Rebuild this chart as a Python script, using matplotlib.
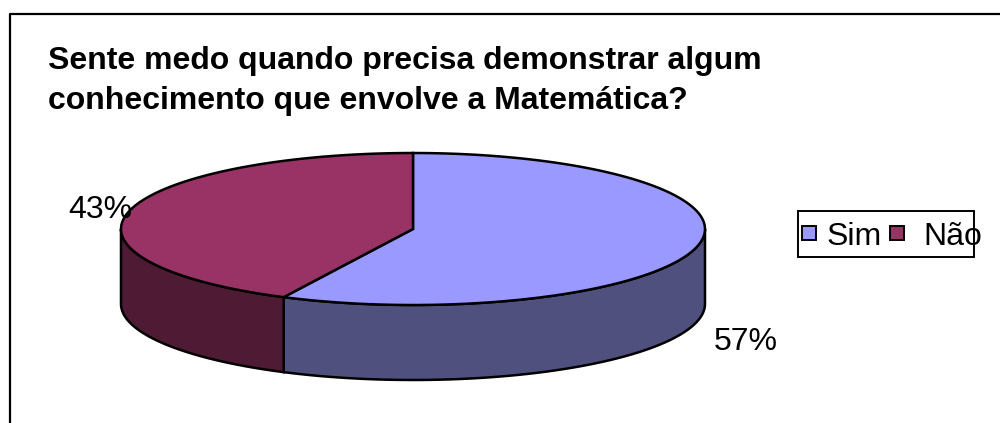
import numpy as np
import matplotlib
matplotlib.use("Agg")
import matplotlib.pyplot as plt
from matplotlib.patches import Polygon, Rectangle

# ---------- data ----------
categories = ["Sim", "Não"]
values = [57.3, 42.7]
labels = ["57%", "43%"]
title_lines = ["Sente medo quando precisa demonstrar algum",
               "conhecimento que envolve a Matemática?"]

top_colors = ["#9999FF", "#993366"]
side_colors = ["#50507F", "#4F1A33"]

plt.rcParams["font.family"] = ["Liberation Sans", "DejaVu Sans"]

# ---------- figure in pixel coordinates ----------
fig = plt.figure(figsize=(10, 4.23), dpi=100)
ax = fig.add_axes([0, 0, 1, 1])
ax.set_xlim(0, 1000)
ax.set_ylim(423, 0)
ax.axis("off")

# chart frame: open at bottom and right like the source crop
ax.plot([10, 10, 1000], [423, 14.5, 14.5], color="black", lw=1.6, solid_capstyle="butt")

# pie geometry
cx, cy, rx, ry, depth = 413, 229, 292, 76, 75

def ell(t):
    t = np.radians(t)
    return cx + rx * np.cos(t), cy + ry * np.sin(t)

# slice angles, clockwise from the top
angles = -90 + np.cumsum([0] + values) * 360 / sum(values)

# side walls first
for i in range(len(values)):
    a0, a1 = angles[i], angles[i + 1]
    # only the front half of the ellipse has a visible wall
    lo, hi = max(a0, 0), min(a1, 180)
    if hi <= lo:
        continue
    t = np.linspace(lo, hi, 60)
    x, y = ell(t)
    pts = np.r_[np.c_[x, y], np.c_[x[::-1], y[::-1] + depth]]
    ax.add_patch(Polygon(pts, closed=True, fc=side_colors[i], ec="black", lw=1.8, zorder=2))

# top faces
for i in range(len(values)):
    t = np.linspace(angles[i], angles[i + 1], 120)
    x, y = ell(t)
    pts = np.r_[[[cx, cy]], np.c_[x, y]]
    ax.add_patch(Polygon(pts, closed=True, fc=top_colors[i], ec="black", lw=1.8, zorder=3))

# percent labels
ax.text(68, 218, labels[1], fontsize=23, va="baseline", ha="left", color="black", zorder=5)
ax.text(714, 350, labels[0], fontsize=23, va="baseline", ha="left", color="black", zorder=5)

# title
ax.text(48, 68.5, title_lines[0], fontsize=23, fontweight="bold", va="baseline", ha="left")
ax.text(48, 109.5, title_lines[1], fontsize=23, fontweight="bold", va="baseline", ha="left")

# legend
ax.add_patch(Rectangle((797.5, 211.5), 176, 46, fc="white", ec="black", lw=1.4, zorder=4))
for swatch_x, text_x, color, name in zip([801.5, 889.5], [827, 923], top_colors, categories):
    ax.add_patch(Rectangle((swatch_x, 226), 14, 14, fc=color, ec="black", lw=1.4, zorder=5))
    ax.text(text_x, 245, name, fontsize=23, va="baseline", ha="left", zorder=6)

fig.savefig("out.png", dpi=100)
